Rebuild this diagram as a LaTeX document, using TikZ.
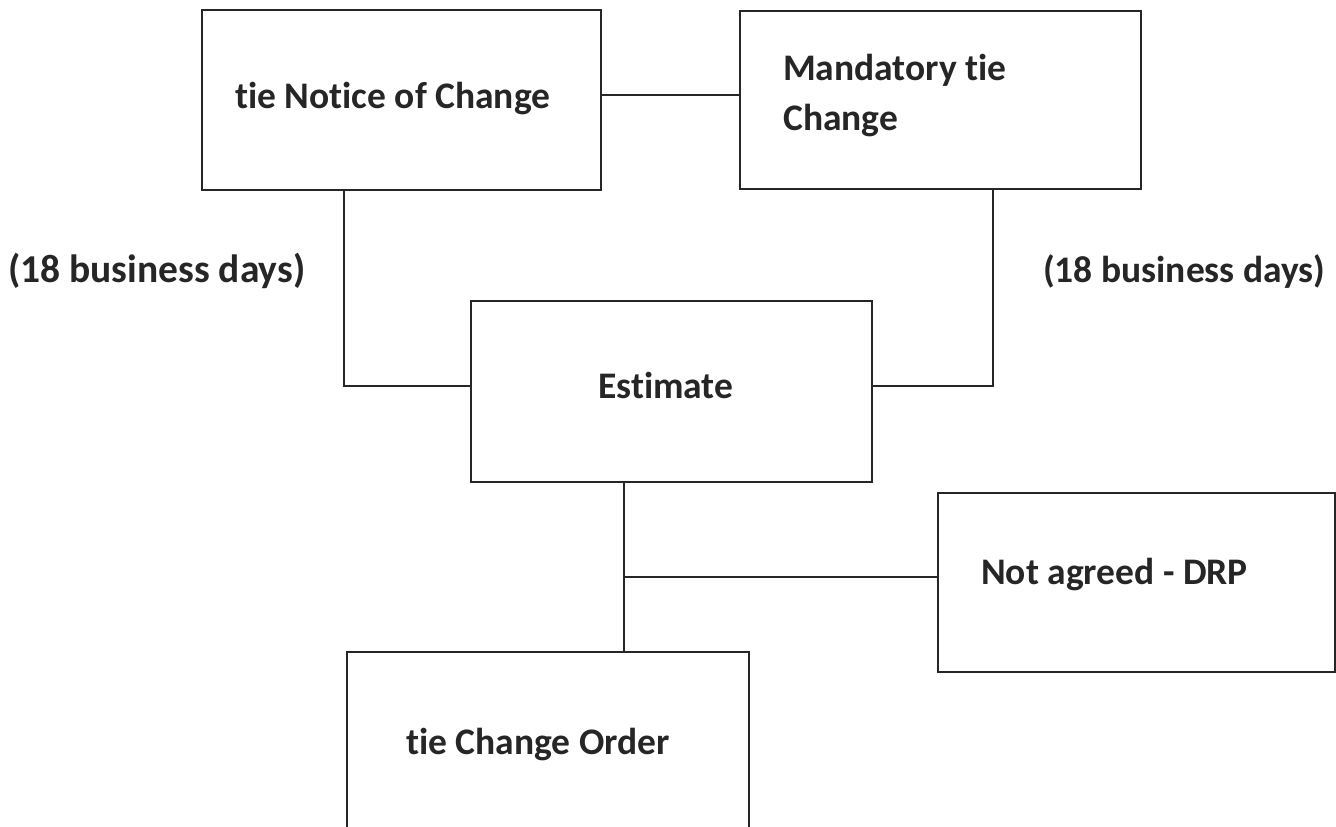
\documentclass[tikz,border=0pt]{standalone}
\usepackage{fontspec}
\setmainfont{Carlito}[Ligatures=NoCommon]
\begin{document}
\begin{tikzpicture}[x=1pt,y=-1pt,
  box/.style={draw=black!85,line width=2pt,rectangle,inner sep=0pt,anchor=north west},
  conn/.style={draw=black!85,line width=2pt},
  lbl/.style={font=\fontsize{37.5}{44}\selectfont\bfseries,text=black!85,inner sep=0pt,anchor=base west},
  side/.style={lbl,font=\fontsize{39.5}{44}\selectfont\bfseries}]
\clip (0,0) rectangle (1336,827);
\useasboundingbox (0,0) rectangle (1336,827);
\fill[white] (0,0) rectangle (1336,827);
% boxes
\node[box,minimum width=399pt,minimum height=180pt] (nc) at (201,9) {};
\node[box,minimum width=401pt,minimum height=178pt] (md) at (739,10) {};
\node[box,minimum width=401pt,minimum height=181pt] (es) at (470,300) {};
\node[box,minimum width=397pt,minimum height=179pt] (dr) at (937,492) {};
\node[box,minimum width=402pt,minimum height=250pt] (co) at (346,651) {};
% texts
\node[lbl] (t1) at (235,108) {tie Notice of Change};
\node[lbl] (t2) at (783,80) {Mandatory tie};
\node[lbl] (t3) at (783,130) {Change};
\node[lbl] (t4) at (598,398) {Estimate};
\node[lbl] (t5) at (981,584) {Not agreed - DRP};
\node[lbl] (t6) at (406,754) {tie Change Order};
\node[side] (t7) at (8,282) {(18 business days)};
\node[lbl] (t8) at (1043,282) {(18 business days)};
% connectors
\coordinate (j1) at (344,386);
\coordinate (j2) at (993,386);
\coordinate (j3) at (624,577);
\draw[conn] (nc.east |- 0,95) -- (md.west |- 0,95);
\draw[conn] (nc.south -| j1) -- (j1) -- (es.west |- j1);
\draw[conn] (md.south -| j2) -- (j2) -- (es.east |- j2);
\draw[conn] (es.south -| j3) -- (co.north -| j3);
\draw[conn] (j3) -- (dr.west |- j3);
\end{tikzpicture}
\end{document}
